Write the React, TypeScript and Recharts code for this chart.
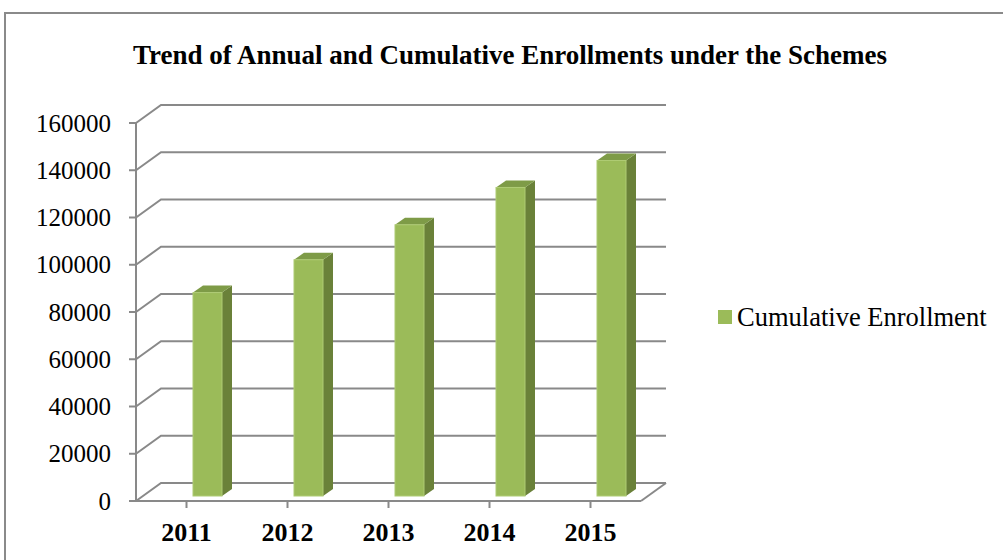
import React from 'react';
import { BarChart, Bar, XAxis, YAxis, CartesianGrid } from 'recharts';

const YEARS = ['2011', '2012', '2013', '2014', '2015'];
const CUMULATIVE = [86100, 100000, 114800, 130600, 142000];
const Y_TICKS = [0, 20000, 40000, 60000, 80000, 100000, 120000, 140000, 160000];
const SERIES_NAME = 'Cumulative Enrollment';

const data = YEARS.map((year, i) => ({ year, cumulative: CUMULATIVE[i] }));

const FONT = '"Liberation Serif", "Times New Roman", serif';
const GRID = '#898989';
const WALL_DX = 25;
const WALL_DY = 18;
const PLOT_BOTTOM = 501;

// 3d gridline: diagonal from front axis to back wall, then along the wall
function WallLine(props: any) {
  const { x1, x2, y1 } = props;
  const isFloor = y1 >= PLOT_BOTTOM - 1;
  const back = y1 - WALL_DY;
  return (
    <g>
      <polyline
        points={`${x1},${y1} ${x1 + WALL_DX},${back} ${x2 + WALL_DX},${back}`}
        fill="none"
        stroke={GRID}
        strokeWidth={2}
      />
      {isFloor && (
        <line x1={x2} y1={y1} x2={x2 + WALL_DX} y2={back} stroke={GRID} strokeWidth={2} />
      )}
    </g>
  );
}

function Bar3D(props: any) {
  const { x, y, width, height } = props;
  const fx = x + 21;
  const top = y - 5;
  const bottom = y + height - 5;
  const dx = 10;
  const dy = 7;
  return (
    <g>
      <polygon
        points={`${fx + width},${top} ${fx + width + dx},${top - dy} ${fx + width + dx},${bottom - dy} ${fx + width},${bottom}`}
        fill="#6A8139"
      />
      <polygon
        points={`${fx},${top} ${fx + dx},${top - dy} ${fx + width + dx},${top - dy} ${fx + width},${top}`}
        fill="#7E9B47"
      />
      <rect x={fx} y={top} width={width} height={bottom - top} fill="#9BBB59" stroke="#AECB74" strokeWidth={1} />
    </g>
  );
}

function YTick(props: any) {
  const { y, payload } = props;
  return (
    <text x={111} y={y} textAnchor="end" dominantBaseline="central" fontFamily={FONT} fontSize={25} fill="#000">
      {payload.value}
    </text>
  );
}

function XTick(props: any) {
  const { x, payload } = props;
  return (
    <text x={x} y={532} textAnchor="middle" dominantBaseline="central" fontFamily={FONT} fontSize={26} fontWeight="bold" fill="#000">
      {payload.value}
    </text>
  );
}

export default function App() {
  return (
    <div style={{ position: 'absolute', left: 0, top: 0, width: 1003, height: 560, overflow: 'hidden', background: '#fff' }}>
      <div style={{ position: 'absolute', left: 4, top: 12, width: 1020, height: 620, border: '2px solid #8a8a8a' }} />
      <div
        style={{
          position: 'absolute',
          left: 0,
          width: 1020,
          top: 38,
          textAlign: 'center',
          fontFamily: FONT,
          fontWeight: 'bold',
          fontSize: 27,
          lineHeight: '34px',
          color: '#000',
          whiteSpace: 'nowrap',
        }}
      >
        Trend of Annual and Cumulative Enrollments under the Schemes
      </div>
      <div style={{ position: 'absolute', left: 0, top: 0 }}>
        <BarChart width={1003} height={560} data={data} margin={{ top: 123, right: 362, left: 36, bottom: 19 }}>
          <CartesianGrid vertical={false} horizontal={(p: any) => <WallLine key={p.key} {...p} />} />
          <XAxis
            dataKey="year"
            height={40}
            axisLine={{ stroke: GRID, strokeWidth: 2 }}
            tickLine={{ stroke: GRID, strokeWidth: 2 }}
            tickSize={7}
            tick={<XTick />}
            interval={0}
          />
          <YAxis
            width={100}
            domain={[0, 160000]}
            ticks={Y_TICKS}
            interval={0}
            axisLine={{ stroke: GRID, strokeWidth: 2 }}
            tickLine={{ stroke: GRID, strokeWidth: 2 }}
            tickSize={7}
            tick={<YTick />}
          />
          <Bar dataKey="cumulative" name={SERIES_NAME} barSize={29} shape={<Bar3D />} isAnimationActive={false} />
        </BarChart>
      </div>
      <div
        style={{
          position: 'absolute',
          left: 718,
          top: 301,
          display: 'flex',
          alignItems: 'center',
          fontFamily: FONT,
          fontSize: 26.5,
          lineHeight: '32px',
          color: '#000',
          whiteSpace: 'nowrap',
        }}
      >
        <span style={{ display: 'inline-block', width: 14, height: 14, background: '#9BBB59', marginRight: 5 }} />
        {SERIES_NAME}
      </div>
    </div>
  );
}
